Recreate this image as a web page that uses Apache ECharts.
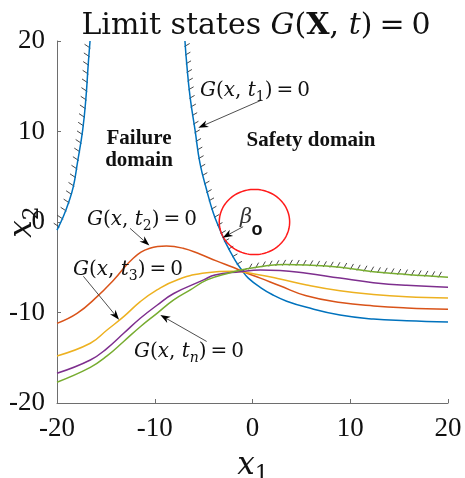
<!DOCTYPE html>
<html><head><meta charset="utf-8">
<script src="https://cdn.jsdelivr.net/npm/echarts@6/dist/echarts.min.js"></script>
<style>html,body{margin:0;padding:0;background:#fff}#c{width:465px;height:478px}</style>
</head><body><div id="c"></div>
<script>
// ---------------- data ----------------
const axisMin = -20, axisMax = 20, axisStep = 10;

const blueLeftX = [-20, -19.35, -18.84, -18.33, -17.92, -17.37, -17.03, -16.8, -16.62];
const blueLeftY = [-0.9, 0.6, 2.06, 3.9, 6.48, 10.17, 13.85, 17.5, 20];

const blueRightX = [-6.91, -6.73, -6.39, -5.88, -5.37, -4.69, -4.0, -3.32, -2.81, -1.79, -1.1, -0.43, 0.9, 2.1, 3.5, 5.54, 8.95, 12.36, 15.77, 20];
const blueRightY = [20, 17.5, 13.85, 10.17, 6.48, 3.54, 0.96, -0.88, -2.17, -4.2, -5.3, -6.2, -7.3, -8.07, -8.75, -9.43, -10.28, -10.72, -10.9, -11.05];

const t2X = [-20, -17.95, -15.9, -14.2, -12.2, -10.5, -8.8, -7.1, -5.4, -3.7, -2.0, -0.94, 0.8, 2.8, 5.5, 9.0, 12.4, 15.8, 20];
const t2Y = [-11.2, -10.1, -8.25, -6.4, -4.0, -2.9, -2.65, -2.9, -3.54, -4.3, -5.0, -5.5, -6.2, -7.05, -8.15, -8.9, -9.28, -9.5, -9.65];

const t3X = [-20, -16.59, -14.88, -13.18, -11.48, -9.77, -7.72, -4.69, -1.96, 0.77, 2.81, 5.54, 8.95, 12.36, 15.77, 20];
const t3Y = [-14.8, -13.4, -11.93, -10.46, -8.8, -7.5, -6.4, -5.6, -5.45, -5.86, -6.3, -6.96, -7.6, -8.0, -8.25, -8.4];

const t4X = [-20, -16.59, -14.88, -13.18, -11.48, -9.77, -8.06, -5.0, -3.84, -1.28, 0.77, 2.81, 5.54, 8.95, 12.36, 15.77, 20];
const t4Y = [-16.72, -15.25, -13.96, -12.3, -10.64, -9.2, -7.9, -6.4, -5.85, -5.5, -5.3, -5.35, -5.67, -6.2, -6.7, -7.0, -7.2];

const tnX = [-20, -16.59, -14.88, -13.18, -11.48, -9.77, -8.06, -6.36, -4.65, -2.3, -0.94, 1.28, 3.32, 5.54, 8.95, 12.36, 15.77, 20];
const tnY = [-17.7, -16.06, -14.8, -13.2, -11.57, -10.09, -8.6, -7.5, -6.4, -5.6, -5.25, -4.85, -4.7, -4.75, -5.0, -5.5, -5.8, -6.1];

const circleCenter = [0.2, 0];
const circleRadius = 3.6;
const crossX = -0.94;       // where the system limit state switches from blue to green
const hatchEndX = 19.5;

// annotation arrows: [from, to] in data coordinates
const arrowT1 = [[0.94, 13.48], [-5.54, 10.42]];
const arrowT2 = [[-12.53, -0.7], [-10.55, -2.6]];
const arrowT3 = [[-17.3, -6.0], [-13.65, -10.8]];
const arrowTn = [[-4.69, -13.2], [-9.43, -10.28]];
const arrowBeta = [[-0.96, -0.52], [-3.05, -1.73]];

// ---------------- helpers ----------------
const zip = (xs, ys) => xs.map((x, i) => [x, ys[i]]);
const C = {blue:'#0072BD', orange:'#D95319', yellow:'#EDB120', purple:'#7E2F8E', green:'#77AC30'};
const SERIF = '"Liberation Serif", serif';
const MATH = '"DejaVu Serif", serif';

function mathRich(fam, size, sub, d, gap) {
  const lh = Math.round(size * 1.3);
  const base = {fontFamily: fam, fontSize: size, lineHeight: lh, verticalAlign: 'middle', color: '#111'};
  return {
    n: Object.assign({}, base),
    i: Object.assign({}, base, {fontStyle: 'italic'}),
    b: Object.assign({}, base, {fontWeight: 'bold'}),
    e: Object.assign({}, base, {padding: [0, gap, 0, gap]}),
    s: {fontFamily: fam, fontSize: sub, lineHeight: lh - 2 * d, verticalAlign: 'bottom', color: '#111'},
    si: {fontFamily: fam, fontSize: sub, fontStyle: 'italic', lineHeight: lh - 2 * d, verticalAlign: 'bottom', color: '#111'}
  };
}
function txt(x, y, text, rich, extra) {
  return Object.assign({type: 'text', x: x, y: y, silent: true, z: 50,
    style: {text: text, rich: rich, align: 'center', verticalAlign: 'middle', fill: '#111'}}, extra || {});
}

function lineSeries(xs, ys, color) {
  return {
    type: 'line', data: zip(xs, ys), showSymbol: false, smooth: 0.45,
    lineStyle: {color: color, width: 1.5}, itemStyle: {color: color}, silent: true, z: 3
  };
}

const hatchSpecs = [
  {xs: blueLeftX, ys: blueLeftY, xMin: -21, xMax: 21, dir: [-0.83, -0.55], len: 6, spacing: 8.7, offset: 4},
  {xs: blueRightX, ys: blueRightY, xMin: -21, xMax: crossX, dir: [0.87, -0.5], len: 5, spacing: 8.7, offset: 5},
  {xs: tnX, ys: tnY, xMin: crossX, xMax: hatchEndX, dir: [0.5, -0.87], len: 5.5, spacing: 6.8, offset: 2}
];

const arrows = [arrowT1, arrowT2, arrowT3, arrowTn, arrowBeta];

const chart = echarts.init(document.getElementById('c'), null, {renderer: 'canvas', width: 465, height: 478});

const axisCommon = {
  type: 'value', min: axisMin, max: axisMax, interval: axisStep,
  axisLine: {show: true, onZero: false, lineStyle: {color: '#6e6e6e', width: 1}},
  axisTick: {show: true, inside: true, length: 4, lineStyle: {color: '#6e6e6e', width: 1}},
  axisLabel: {color: '#111', fontFamily: SERIF, fontSize: 27, margin: 12},
  splitLine: {show: false}
};

const titleRich = mathRich(MATH, 30, 21, 6, 7);
const gRich = mathRich(MATH, 20, 14, 4, 4);
const xRich = mathRich(MATH, 31, 22, 7, 0);

chart.setOption({
  animation: false,
  backgroundColor: '#fff',
  grid: {left: 57, right: 17, top: 41, bottom: 75, containLabel: false},
  xAxis: Object.assign({}, axisCommon),
  yAxis: Object.assign({}, axisCommon),
  series: [
    lineSeries(blueLeftX, blueLeftY, C.blue),
    lineSeries(blueRightX, blueRightY, C.blue),
    lineSeries(t2X, t2Y, C.orange),
    lineSeries(t3X, t3Y, C.yellow),
    lineSeries(t4X, t4Y, C.purple),
    lineSeries(tnX, tnY, C.green),
    {
      type: 'custom', coordinateSystem: 'cartesian2d', silent: true, z: 4,
      data: [[circleCenter[0], circleCenter[1], circleRadius]],
      renderItem: function (params, api) {
        const c = api.coord([api.value(0), api.value(1)]);
        const s = api.size([api.value(2), api.value(2)]);
        const pts = [];
        for (let k = 0; k <= 120; k++) {
          const a = k / 120 * Math.PI * 2;
          pts.push([c[0] + s[0] * Math.cos(a), c[1] + s[1] * Math.sin(a)]);
        }
        return {type: 'polyline', shape: {points: pts}, style: {fill: 'none', stroke: '#ff1a1a', lineWidth: 1.5}};
      }
    },
    {
      type: 'custom', coordinateSystem: 'cartesian2d', silent: true, z: 2,
      data: [[0, 0]],
      renderItem: function (params, api) {
        const children = [];
        hatchSpecs.forEach(function (h) {
          const pts = h.xs.map((x, i) => api.coord([x, h.ys[i]]));
          const xminPx = api.coord([h.xMin, 0])[0], xmaxPx = api.coord([h.xMax, 0])[0];
          let t = h.offset;
          for (let i = 0; i < pts.length - 1; i++) {
            const p = pts[i], q = pts[i + 1];
            const seg = Math.hypot(q[0] - p[0], q[1] - p[1]);
            while (t <= seg) {
              const f = t / seg;
              const x = p[0] + (q[0] - p[0]) * f, y = p[1] + (q[1] - p[1]) * f;
              if (x >= xminPx && x <= xmaxPx) {
                children.push({type: 'line',
                  shape: {x1: x - h.dir[0], y1: y - h.dir[1], x2: x + h.dir[0] * h.len, y2: y + h.dir[1] * h.len},
                  style: {stroke: '#333', lineWidth: 0.9}});
              }
              t += h.spacing;
            }
            t -= seg;
          }
        });
        return {type: 'group', children: children};
      }
    },
    {
      type: 'custom', coordinateSystem: 'cartesian2d', silent: true, z: 6,
      data: arrows.map(a => [a[0][0], a[0][1], a[1][0], a[1][1]]),
      renderItem: function (params, api) {
        const p = api.coord([api.value(0), api.value(1)]);
        const q = api.coord([api.value(2), api.value(3)]);
        const dx = q[0] - p[0], dy = q[1] - p[1];
        const L = Math.hypot(dx, dy), ux = dx / L, uy = dy / L, nx = -uy, ny = ux;
        const hl = 10, hw = 3.6;
        const b = [q[0] - ux * hl, q[1] - uy * hl];
        const notch = [q[0] - ux * hl * 0.7, q[1] - uy * hl * 0.7];
        return {type: 'group', children: [
          {type: 'line', shape: {x1: p[0], y1: p[1], x2: notch[0], y2: notch[1]}, style: {stroke: '#3a3a3a', lineWidth: 0.9}},
          {type: 'polygon', shape: {points: [q, [b[0] + nx * hw, b[1] + ny * hw], notch, [b[0] - nx * hw, b[1] - ny * hw]]}, style: {fill: '#000'}}
        ]};
      }
    }
  ],
  graphic: [
    txt(256, 26, '{n|Limit states }{i|G}{n|(}{b|X}{n|, }{i|t}{n|)}{e|=}{n|0}', titleRich),
    txt(253, 466, '{i|x}{s|1}', xRich),
    txt(23, 222, '{i|x}{s|2}', xRich, {rotation: Math.PI / 2}),
    txt(139, 150, 'Failure\ndomain', null, {style: {text: 'Failure\ndomain', font: 'bold 21px "Liberation Serif"', lineHeight: 22, align: 'center', verticalAlign: 'middle', fill: '#111'}}),
    txt(311, 141, 'Safety domain', null, {style: {text: 'Safety domain', font: 'bold 21px "Liberation Serif"', align: 'center', verticalAlign: 'middle', fill: '#111'}}),
    txt(255, 91, '{i|G}{n|(}{i|x}{n|, }{i|t}{s|1}{n|)}{e|=}{n|0}', gRich),
    txt(142, 220, '{i|G}{n|(}{i|x}{n|, }{i|t}{s|2}{n|)}{e|=}{n|0}', gRich),
    txt(128, 270, '{i|G}{n|(}{i|x}{n|, }{i|t}{s|3}{n|)}{e|=}{n|0}', gRich),
    txt(189, 352, '{i|G}{n|(}{i|x}{n|, }{i|t}{si|n}{n|)}{e|=}{n|0}', gRich),
    txt(246, 218, 'β', null, {style: {text: 'β', font: 'italic 21px "DejaVu Serif"', align: 'center', verticalAlign: 'middle', fill: '#333'}}),
    txt(257, 230, 'o', null, {style: {text: 'o', font: 'bold 18px "Liberation Sans"', align: 'center', verticalAlign: 'middle', fill: '#111'}})
  ]
});
</script></body></html>
